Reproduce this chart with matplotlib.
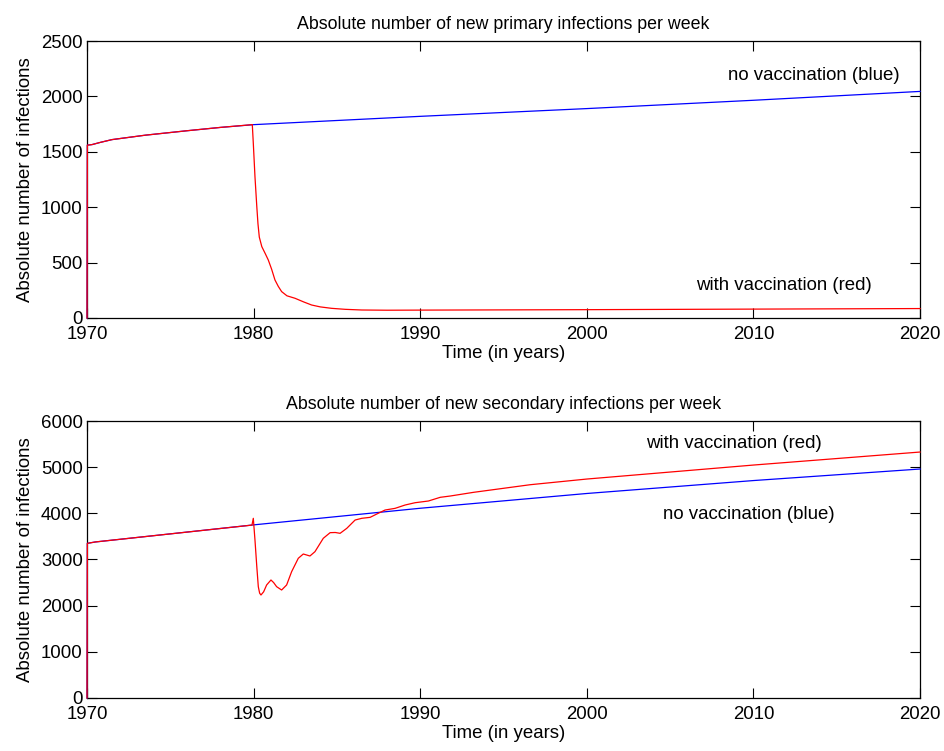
import matplotlib
matplotlib.use('Agg')
import matplotlib.pyplot as plt

plt.rcParams['font.family'] = ['Liberation Sans', 'DejaVu Sans']

# primary infections per week
prim_years_blue = [1970.0, 1970.02, 1970.3, 1970.8, 1971.5, 1973.5, 1976.0, 1978.0, 1980.0,
                   1990.0, 2000.0, 2010.0, 2020.0]
prim_blue = [0, 1560, 1565, 1585, 1610, 1650, 1690, 1720, 1745,
             1820, 1890, 1965, 2045]

prim_years_red = [1970.0, 1970.02, 1970.3, 1970.8, 1971.5, 1973.5, 1976.0, 1978.0, 1979.92,
                  1979.98, 1980.08, 1980.19, 1980.26, 1980.34, 1980.49, 1980.7, 1980.88,
                  1981.08, 1981.28, 1981.48, 1981.68, 1982.0, 1982.48, 1983.0, 1983.48,
                  1984.0, 1984.68, 1985.5, 1986.49, 1988.0, 1990.0, 2000.0, 2010.0, 2020.0]
prim_red = [0, 1560, 1565, 1585, 1610, 1650, 1690, 1720, 1745,
            1577, 1275, 1005, 850, 730, 644, 580, 523,
            440, 343, 285, 238, 200, 178, 145, 117,
            100, 87, 78, 72, 70, 71, 75, 80, 85]

# secondary infections per week
sec_years_blue = [1970.0, 1970.02, 1970.5, 1980.0, 1990.0, 2000.0, 2010.0, 2020.0]
sec_blue = [0, 3350, 3380, 3750, 4110, 4430, 4710, 4960]

sec_years_red = [1970.0, 1970.02, 1970.5, 1979.9, 1979.98, 1980.08, 1980.19, 1980.28,
                 1980.36, 1980.44, 1980.6, 1980.78, 1981.04, 1981.2, 1981.38, 1981.68,
                 1981.98, 1982.28, 1982.68, 1982.98, 1983.38, 1983.68, 1984.18, 1984.59,
                 1984.9, 1985.19, 1985.59, 1986.09, 1986.49, 1986.99, 1987.39, 1987.89,
                 1988.49, 1989.09, 1989.69, 1990.49, 1991.2, 1991.8, 1993.2, 1996.6,
                 2000.0, 2010.0, 2020.0]
sec_red = [0, 3350, 3380, 3745, 3892, 3422, 2844, 2411,
           2270, 2231, 2300, 2448, 2556, 2500, 2411, 2339,
           2448, 2736, 3026, 3119, 3076, 3169, 3459, 3581,
           3585, 3567, 3675, 3855, 3892, 3913, 3985, 4072,
           4108, 4180, 4230, 4267, 4347, 4375, 4455, 4620,
           4743, 5046, 5328]

year_ticks = [1970, 1980, 1990, 2000, 2010, 2020]

fig = plt.figure(figsize=(9.45, 7.51), dpi=100)
ax1 = fig.add_axes([0.0921, 0.5766, 0.8815, 0.3688])
ax2 = fig.add_axes([0.0921, 0.0706, 0.8815, 0.3688])


def style(ax, yticks, title):
    ax.set_xlim(1970, 2020)
    ax.set_xticks(year_ticks)
    ax.set_yticks(yticks)
    ax.set_ylim(yticks[0], yticks[-1])
    ax.tick_params(direction='in', length=7, width=0.8, top=True, right=True,
                   labelsize=13.4, pad=3)
    ax.tick_params(axis='x', pad=6)
    for s in ax.spines.values():
        s.set_linewidth(0.9)
    ax.set_title(title, fontsize=12.8, pad=9)
    ax.set_xlabel('Time (in years)', fontsize=13.4, labelpad=1)
    ax.set_ylabel('Absolute number of infections', fontsize=13.4, labelpad=5)


ax1.plot(prim_years_blue, prim_blue, color='blue', lw=0.9, clip_on=False, zorder=3)
ax1.plot(prim_years_red, prim_red, color='red', lw=0.9, clip_on=False, zorder=3)
style(ax1, [0, 500, 1000, 1500, 2000, 2500],
      'Absolute number of new primary infections per week')
ax1.text(2013.6, 2193, 'no vaccination (blue)', ha='center', va='center', fontsize=13.4)
ax1.text(2011.8, 289, 'with vaccination (red)', ha='center', va='center', fontsize=13.4)

ax2.plot(sec_years_blue, sec_blue, color='blue', lw=0.9, clip_on=False, zorder=3)
ax2.plot(sec_years_red, sec_red, color='red', lw=0.9, clip_on=False, zorder=3)
style(ax2, [0, 1000, 2000, 3000, 4000, 5000, 6000],
      'Absolute number of new secondary infections per week')
ax2.text(2008.8, 5523, 'with vaccination (red)', ha='center', va='center', fontsize=13.4)
ax2.text(2009.7, 3985, 'no vaccination (blue)', ha='center', va='center', fontsize=13.4)

fig.savefig('out.png', dpi=100)
